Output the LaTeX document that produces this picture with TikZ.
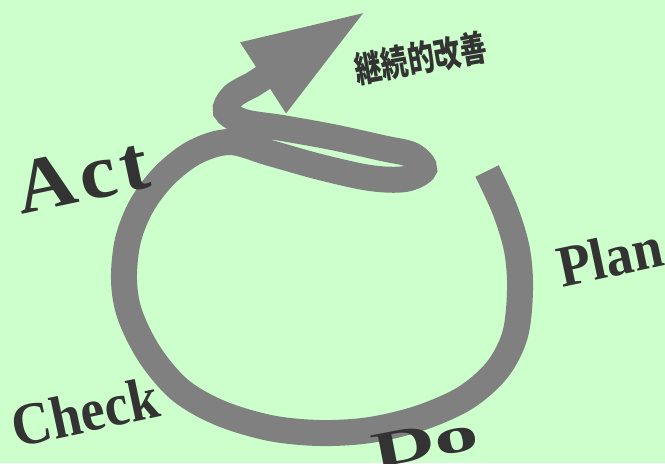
\documentclass[tikz,border=0pt]{standalone}
\usepackage{fontspec}
\setmainfont{Liberation Serif}
\newfontfamily\jpfont{Noto Sans CJK JP}
\usetikzlibrary{arrows.meta}

\definecolor{bgmint}{HTML}{CCFFCC}
\definecolor{loopgray}{HTML}{808080}
\definecolor{inkgray}{HTML}{333333}

\begin{document}
\begin{tikzpicture}[
  x=0.02cm,y=-0.02cm,
  loopline/.style={draw=loopgray,line width=0.52cm,-{Triangle[length=2.5cm,width=1.52cm]}},
  stage/.style={text=inkgray,inner sep=0pt,rotate=12,font=\bfseries\fontsize{31}{31}\selectfont}
]

\fill[bgmint] (0,0) rectangle (665,463);
\useasboundingbox (0,0) rectangle (665,463);

% the cycle: big round, a small loop, then the arrow out
\draw[loopline] plot[smooth,tension=0.55] coordinates {
  (487,171) (505,210) (517,250) (520,290) (515,335) (497,370) (465,398)
  (420,418) (370,430) (320,433) (270,428) (220,413) (180,390) (150,355)
  (130,315) (124,280) (128,240) (142,205) (165,175) (195,152) (230,142)
  (270,153) (320,167) (370,178) (405,179) (424,169) (412,155) (382,148)
  (332,137) (282,128) (244,122) (226,111) (233,96) (252,85)}
  -- (368,10);

\node[stage,xscale=1.08,font=\bfseries\fontsize{44}{44}\selectfont\addfontfeature{LetterSpace=5}] (act) at (82,176) {Act};
\node[stage,yscale=1.08] (plan) at (610,257) {Plan};
\node[stage,yscale=1.1] (check) at (85,412) {Check};
\node[stage,rotate=-1,xscale=1.62,yscale=0.92] (do) at (425,442) {Do};
\node[text=inkgray,inner sep=0pt,rotate=10,xscale=0.78,yscale=1.05,font=\jpfont\bfseries\fontsize{19.5}{19.5}\selectfont] (kaizen) at (421,58) {継続的改善};
\end{tikzpicture}
\end{document}
